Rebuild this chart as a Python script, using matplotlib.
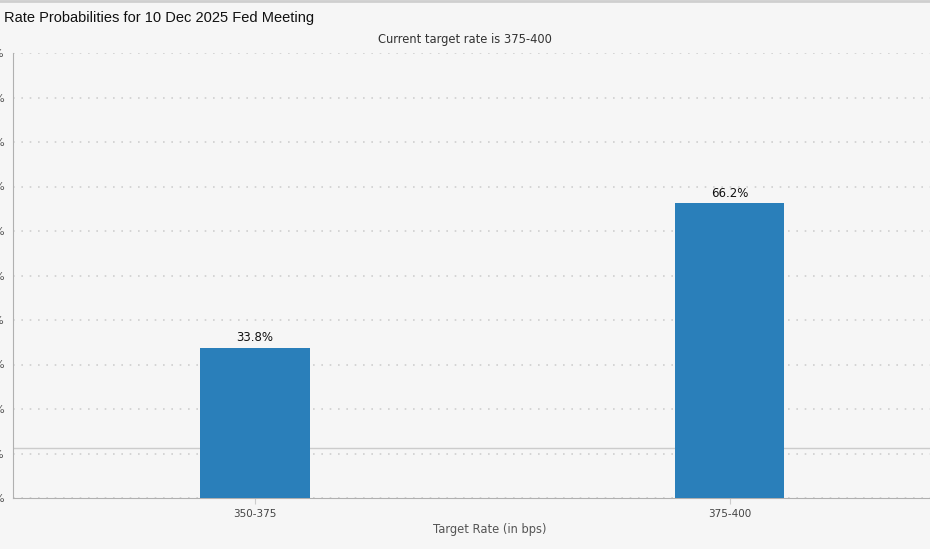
import matplotlib.pyplot as plt
import numpy as np

# data
title = "Rate Probabilities for 10 Dec 2025 Fed Meeting"
subtitle = "Current target rate is 375-400"
targets = ["350-375", "375-400"]
probs = [33.8, 66.2]
y_ticks = [0, 10, 20, 30, 40, 50, 60, 70, 80, 90, 100]

bg = "#f6f6f6"
bar_col = "#2a7fba"

fig = plt.figure(figsize=(9.3, 5.49), dpi=100, facecolor=bg)
W, H = 930, 549
# the axes runs past the right edge of the crop
left, right, top, bottom = 13, 966, 53, 498
ax = fig.add_axes([left / W, 1 - bottom / H, (right - left) / W, (bottom - top) / H])
ax.set_facecolor(bg)

x = np.arange(len(targets))
bars = ax.bar(x, probs, width=0.23, color=bar_col, zorder=3)
for b, p in zip(bars, probs):
    ax.text(b.get_x() + b.get_width() / 2, p + 0.7, f"{p}%", ha="center", va="bottom",
            fontsize=8.5, color="#111111", family="DejaVu Sans", zorder=4)

ax.set_xlim(-0.51, 1.498)
ax.set_ylim(0, 100)
ax.set_yticks(y_ticks)
ax.set_yticklabels([f"{t}%" for t in y_ticks], fontsize=8, color="#555555")
ax.set_xticks(x)
ax.set_xticklabels(targets, fontsize=7.5, color="#444444")
ax.tick_params(axis="y", length=0, pad=6)
ax.tick_params(axis="x", length=4, color="#cccccc", pad=4)
ax.yaxis.grid(True, linestyle=(0, (1, 4)), color="#cfcfcf", linewidth=1.2)
ax.axhline(11.2, color="#cccccc", linewidth=1, zorder=2)

for s in ["top", "right"]:
    ax.spines[s].set_visible(False)
ax.spines["left"].set_color("#b0b0b0")
ax.spines["bottom"].set_color("#b0b0b0")

ax.set_xlabel("Target Rate (in bps)", fontsize=8.3, color="#555555", labelpad=3)

fig.text(465 / W, 1 - 40 / H, subtitle, ha="center", va="center", fontsize=8.3,
         color="#333333", family="DejaVu Sans")
fig.text(4 / W, 1 - 18 / H, title, ha="left", va="center", fontsize=10.5,
         color="#111111", family="Liberation Sans")
# grey border along the top of the crop
fig.add_artist(plt.Line2D([0, 1], [1 - 1 / H, 1 - 1 / H], color="#cfcfcf", linewidth=2))

fig.savefig("out.png", dpi=100, facecolor=bg)
